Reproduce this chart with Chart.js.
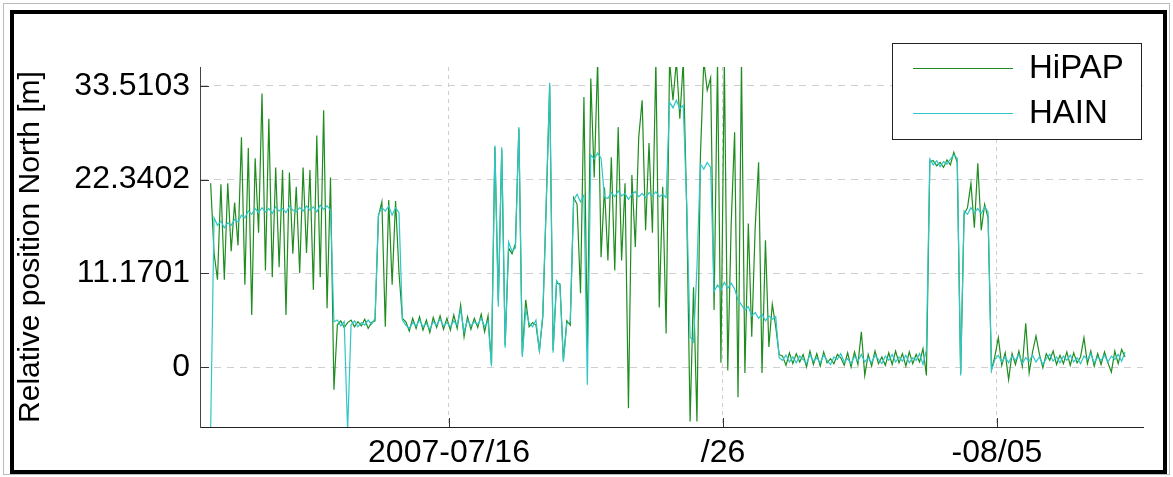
<!DOCTYPE html>
<html lang="en">
<head>
  <meta charset="UTF-8">
  <title>Relative position North</title>
  <script src="https://cdn.jsdelivr.net/npm/chart.js@4.4.1/dist/chart.umd.min.js"></script>
  <style>
    body { margin: 0; background: #fff; }
    .wrap { position: relative; width: 1173px; height: 477px; }
    .frame { position: absolute; left: 10px; top: 10px; width: 1149px; height: 456px; border: 4px solid #000; pointer-events: none; }
    .outer { position: absolute; left: 3px; top: 3px; width: 1165px; height: 470px; border: 1px solid #bbb; pointer-events: none; }
  </style>
</head>
<body>
<div class="wrap">
  <canvas id="chart" width="1173" height="477"></canvas>
  <div class="outer"></div>
  <div class="frame"></div>
</div>

<script>
// sample grid: days of July 2007 (36 = Aug 05)
const startDay = 7.3;
const stepDay = 0.125;

const seriesNames = ['HiPAP', 'HAIN'];

// HiPAP [m]
const hipap = [
  21.9, 13.6, 10.4, 21.8, 10.4, 21.9, 13.8, 19.6, 14.5, 27.4,
  9.8, 26.1, 6.2, 24.9, 16.0, 32.6, 11.5, 29.6, 10.7, 23.8,
  11.9, 23.5, 6.2, 23.2, 13.5, 21.5, 11.2, 23.8, 13.6, 23.5,
  9.2, 27.6, 10.7, 30.6, 7.0, 22.6, -2.7, 5.0, 5.5, 4.7,
  5.3, 5.6, 4.8, 5.4, 4.9, 5.7, 4.6, 5.3, 5.5, 18.0,
  19.7, 4.8, 19.9, 9.8, 19.8, 11.2, 5.8, 5.4, 4.3, 5.8,
  4.6, 6.0, 4.4, 5.6, 4.1, 5.9, 4.7, 6.1, 4.5, 5.8,
  4.4, 6.2, 4.6, 7.4, 3.6, 6.0, 4.5, 5.8, 4.7, 6.3,
  4.2, 6.1, 0.3, 26.2, 7.8, 25.9, 2.6, 14.2, 13.5, 14.7,
  28.4, 1.5, 8.0, 4.8, 5.3, 5.0, 2.0, 6.0, 19.5, 33.6,
  2.0, 10.0, 9.9, 0.8, 5.5, 5.0, 20.2, 19.4, 8.8, 32.2,
  2.4, 34.4, 22.6, 36.5, 13.1, 21.4, 12.7, 25.0, 11.5, 28.6,
  12.7, 21.9, -4.9, 22.9, 14.3, 27.4, 31.8, 16.3, 26.7, 16.0,
  36.5, 7.1, 21.5, 4.0, 36.5, 31.8, 36.5, 29.6, 36.5, 19.0,
  -6.5, 9.5, -6.5, 25.0, 36.5, 33.0, 34.5, 6.8, 36.5, 0.5,
  36.5, -0.4, 17.1, 28.0, -3.6, 36.5, -0.7, 17.1, 3.6, 16.6,
  24.4, -0.7, 15.1, 2.4, 7.5, 4.8, 1.5, 1.3, 0.2, 1.7,
  0.4, 1.6, 0.6, 1.5, 0.0, 1.9, 0.3, 1.6, 0.1, 1.8,
  0.5, 1.0, 0.4, 1.5, 1.1, 0.2, 1.7, 0.0, 1.8, 0.3,
  4.2, -1.0, 1.5, 0.1, 1.9, 0.4, 1.2, 0.2, 1.7, 0.3,
  1.9, 0.5, 1.6, 0.1, 1.8, 0.4, 1.5, 0.6, 2.2, -1.0,
  24.5, 24.6, 24.0, 24.4, 23.8, 24.7, 24.1, 25.6, 24.4, -0.8,
  18.2, 19.0, 21.9, 16.6, 24.3, 16.3, 19.4, 17.8, -0.3, 1.3,
  3.5, 0.2, 1.7, -1.5, 1.6, 0.3, 1.9, 0.1, 5.2, -0.7,
  1.8, 3.7, 1.5, -0.1, 1.6, 0.8, 1.9, 0.3, 1.4, 0.4,
  1.8, 0.2, 1.7, 0.5, 1.2, 3.5, 0.4, 1.9, 0.1, 1.6,
  0.3, 1.8, 0.5, -0.6, 1.9, 0.4, 2.1, 1.2
];

// HAIN [m]
const hain = [
  -7.6, 17.8, 16.9, 17.4, 16.6, 17.2, 16.9, 17.6, 17.3, 18.1,
  17.8, 18.6, 18.2, 18.9, 18.4, 19.0, 18.5, 18.9, 18.3, 19.1,
  18.6, 18.9, 18.4, 19.2, 18.7, 18.5, 19.0, 18.6, 19.2, 18.7,
  19.1, 18.5, 19.3, 18.8, 19.2, 18.7, 5.4, 5.6, 4.9, 5.4,
  -7.6, 5.0, 5.5, 4.8, 5.3, 5.0, 5.6, 5.1, 5.8, 18.2,
  19.0, 18.6, 19.2, 18.1, 19.0, 18.4, 5.6, 5.0, 4.6, 5.3,
  4.9, 5.6, 4.8, 5.2, 4.5, 5.4, 5.0, 5.7, 4.9, 5.3,
  4.8, 5.5, 5.0, 6.8, 4.2, 5.6, 4.9, 5.4, 5.1, 5.8,
  4.8, 5.5, 0.1, 26.4, 7.2, 26.2, 2.3, 14.9, 13.8, 14.2,
  28.6, 1.2, 6.8, 5.2, 4.8, 5.6, 1.8, 6.4, 19.7, 33.9,
  1.7, 10.3, 9.7, 0.6, 5.2, 5.4, 19.9, 20.6, 19.7, 20.5,
  -2.1, 25.3, 24.8, 25.5, 24.9, 20.3, 20.1, 20.8, 20.3, 21.0,
  20.4, 20.7, 20.0, 20.6, 20.9, 20.3, 20.7, 20.2, 20.8, 20.4,
  20.9, 20.3, 20.6, 20.2, 31.6, 30.9, 31.8, 30.8, 31.2, 19.5,
  3.6, 3.0, 11.9, 24.2, 23.6, 24.4, 23.8, 9.0, 9.8, 9.2,
  10.1, 9.4, 10.0, 9.3, 8.0, 7.4, 6.8, 7.2, 6.1, 6.5,
  5.8, 6.3, 5.5, 6.1, 5.7, 6.0, 1.1, 0.8, 1.4, 0.6,
  1.2, 0.5, 1.3, 0.9, 0.4, 1.5, 0.7, 1.1, 0.5, 1.4,
  0.8, 0.3, 1.2, 0.9, 1.6, 0.6, 1.0, 0.4, 1.3, 0.7,
  1.5, 0.6, 1.1, 0.5, 1.4, 0.9, 0.4, 1.3, 0.8, 1.5,
  0.6, 1.2, 0.7, 1.4, 0.5, 1.1, 0.8, 1.6, 0.3, 2.0,
  24.8, 24.1, 24.6, 23.9, 24.5, 24.2, 24.8, 25.3, 24.9, -1.0,
  18.6, 18.2, 19.0, 18.4, 18.9, 18.3, 19.1, 18.5, -0.4, 0.9,
  1.4, 0.6, 1.2, 0.5, 1.3, 0.8, 1.5, 0.4, 1.1, 0.7,
  1.4, 0.6, 1.2, 0.3, 1.0, 1.5, 0.7, 1.2, 0.5, 1.3,
  0.8, 1.4, 0.6, 1.1, 0.4, 1.3, 0.9, 1.6, 0.5, 1.2,
  0.8, 1.4, 0.6, 1.3, 0.9, 1.5, 0.7, 1.8
];

const yTicks = [0, 11.1701, 22.3402, 33.5103];
const xTicks = [16, 26, 36];
const xTickLabels = ['2007-07/16', '/26', '-08/05'];

const colors = ['#1e8c1e', '#2ec6c6'];
const font = "'Liberation Sans', Arial, sans-serif";

function toPoints(values) {
  return values.map((v, i) => ({ x: startDay + i * stepDay, y: v }));
}

// MATLAB style inner tick marks + legend box
const extras = {
  id: 'extras',
  afterDraw(chart) {
    const { ctx, chartArea: a, scales: { x, y } } = chart;
    ctx.save();
    ctx.strokeStyle = '#333';
    ctx.lineWidth = 1;
    yTicks.forEach(v => {
      const py = Math.round(y.getPixelForValue(v)) + 0.5;
      ctx.beginPath(); ctx.moveTo(a.left, py); ctx.lineTo(a.left + 9, py); ctx.stroke();
    });
    xTicks.forEach(v => {
      const px = Math.round(x.getPixelForValue(v)) + 0.5;
      ctx.beginPath(); ctx.moveTo(px, a.bottom); ctx.lineTo(px, a.bottom - 9); ctx.stroke();
    });

    // legend
    const bx = 892, by = 43, bw = 249, bh = 96;
    ctx.fillStyle = '#fff';
    ctx.fillRect(bx, by, bw, bh);
    ctx.strokeStyle = '#222';
    ctx.strokeRect(bx + 0.5, by + 0.5, bw, bh);
    ctx.font = '33px ' + font;
    ctx.textBaseline = 'middle';
    ctx.fillStyle = '#000';
    chart.data.datasets.forEach((ds, i) => {
      const ly = 68 + i * 45;
      ctx.strokeStyle = ds.borderColor;
      ctx.lineWidth = 1.2;
      ctx.beginPath(); ctx.moveTo(913, ly + 0.5); ctx.lineTo(1013, ly + 0.5); ctx.stroke();
      ctx.fillText(ds.label, 1029, ly + 1);
    });
    ctx.restore();
  }
};

const ctx = document.getElementById('chart').getContext('2d');
const chart = new Chart(ctx, {
  type: 'line',
  data: {
    datasets: [
      { label: seriesNames[0], data: toPoints(hipap), borderColor: colors[0], borderWidth: 1.2, pointRadius: 0, order: 2 },
      { label: seriesNames[1], data: toPoints(hain), borderColor: colors[1], borderWidth: 1.2, pointRadius: 0, order: 1 }
    ]
  },
  options: {
    responsive: false,
    animation: false,
    devicePixelRatio: 1,
    layout: { padding: { left: 0, right: 30, top: 67, bottom: 0 } },
    plugins: { legend: { display: false }, tooltip: { enabled: false } },
    scales: {
      x: {
        type: 'linear',
        min: 6.912,
        max: 41.33,
        afterBuildTicks: s => { s.ticks = xTicks.map(v => ({ value: v })); },
        afterFit: s => { s.height = 50; },
        ticks: {
          color: '#000',
          font: { family: font, size: 32 },
          padding: 7,
          maxRotation: 0,
          callback: (v) => xTickLabels[xTicks.indexOf(v)]
        },
        grid: { color: '#cfcfcf', lineWidth: 1, drawTicks: false },
        border: { display: true, color: '#222', width: 1, dash: [4, 4] }
      },
      y: {
        min: -7.15,
        max: 35.77,
        afterBuildTicks: s => { s.ticks = yTicks.map(v => ({ value: v })); },
        afterFit: s => { s.width = 200; },
        ticks: {
          color: '#000',
          font: { family: font, size: 32 },
          padding: 10,
          callback: v => v === 0 ? '0' : v.toFixed(4)
        },
        grid: { color: '#cfcfcf', lineWidth: 1, drawTicks: false },
        border: { display: true, color: '#444', width: 1, dash: [7, 6] },
        title: {
          display: true,
          text: 'Relative position North [m]',
          color: '#000',
          font: { family: font, size: 30 },
          padding: { top: 13, bottom: 0 }
        }
      }
    }
  },
  plugins: [extras]
});
</script>
</body>
</html>
